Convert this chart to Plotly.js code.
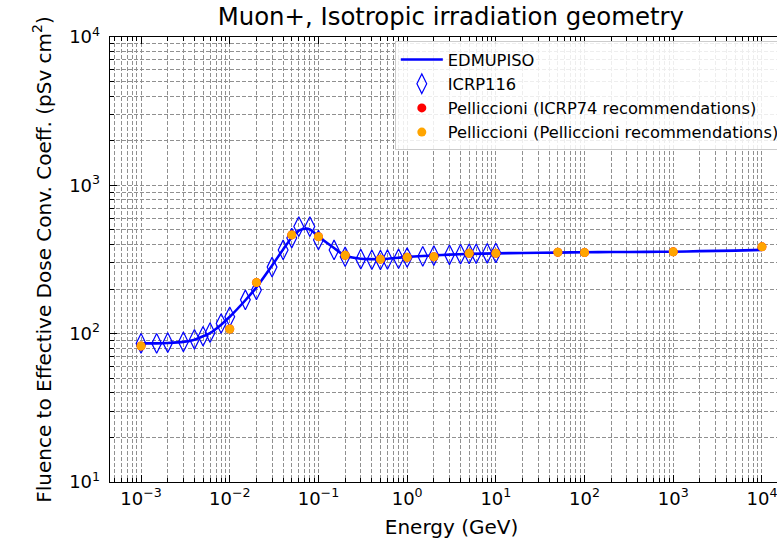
<!DOCTYPE html>
<html><head><meta charset="utf-8">
<script src="https://cdn.plot.ly/plotly-3.0.1.min.js"></script>
<style>html,body{margin:0;padding:0;overflow:hidden;background:#fff}#chart{width:800px;height:540px}</style>
</head><body><div id="chart"></div><script>
// EDMUPISO curve (GeV, pSv cm2)
const lineEnergy = [0.001, 0.0015, 0.002, 0.003, 0.004, 0.005, 0.006, 0.008, 0.01, 0.015, 0.02, 0.03, 0.04, 0.05, 0.06, 0.07, 0.08, 0.1, 0.15, 0.2, 0.3, 0.4, 0.5, 0.6, 0.8, 1, 1.5, 2, 3, 5, 10, 20, 50, 100, 200, 500, 1000, 2000, 5000, 10000];
const lineDose   = [86, 86, 86.5, 88, 91, 96, 101, 115, 130, 168, 205, 288, 370, 445, 495, 510, 505, 452, 378, 335, 320, 318, 318, 320, 325, 330, 334, 337, 341, 345, 348, 350, 352, 354, 355, 356, 357, 360, 363, 367];
// ICRP116 points
const icrpEnergy = [0.001, 0.0015, 0.002, 0.003, 0.004, 0.005, 0.006, 0.008, 0.01, 0.015, 0.02, 0.03, 0.04, 0.05, 0.06, 0.08, 0.1, 0.15, 0.2, 0.3, 0.4, 0.5, 0.6, 0.8, 1, 1.5, 2, 3, 4, 5, 6, 8, 10];
const icrpDose   = [86, 86, 87, 88, 91.6, 96, 101.6, 117, 130, 169, 197, 281, 367, 441, 527, 527, 428, 367, 330, 318, 315, 314, 316, 320, 326, 332, 336, 340, 343, 345, 346, 348, 350];
// Pelliccioni points
const pellEnergy = [0.001, 0.01, 0.02, 0.05, 0.1, 0.2, 0.5, 1, 2, 5, 10, 50, 100, 1000, 10000];
const pellICRP74 = [82.6, 107.6, 221, 463, 451, 338, 318, 327, 330, 348, 348, 354, 352, 356, 385];
const pellPell   = [82.6, 107.6, 221, 463, 451, 338, 318, 327, 330, 348, 348, 354, 352, 356, 385];
// Tick labels
const xTickVals = [1e-3, 1e-2, 1e-1, 1, 10, 100, 1000, 10000];
const xTickText = ['10<sup>−3</sup>', '10<sup>−2</sup>', '10<sup>−1</sup>', '10<sup>0</sup>', '10<sup>1</sup>', '10<sup>2</sup>', '10<sup>3</sup>', '10<sup>4</sup>'];
const yTickVals = [10, 100, 1000, 10000];
const yTickText = ['10<sup>1</sup>', '10<sup>2</sup>', '10<sup>3</sup>', '10<sup>4</sup>'];

function minorVals(lo, hi) {
  const v = [];
  for (let p = lo; p <= hi; p++) for (let d = 2; d <= 9; d++) v.push(d * Math.pow(10, p));
  return v;
}

const FONT = 'DejaVu Sans, sans-serif';
const gridCol = '#909090';
const gridDash = '4px,2px';

const traces = [
  {x: lineEnergy, y: lineDose, mode: 'lines', name: 'EDMUPISO', legendgroup: 'a',
   line: {color: '#0000ff', width: 2.6, shape: 'spline', smoothing: 0.6}},
  {x: icrpEnergy, y: icrpDose, mode: 'markers', name: 'ICRP116', legendgroup: 'b',
   marker: {symbol: 'diamond-tall-open', size: 14, color: '#0000ff', line: {width: 1.2, color: '#0000ff'}}},
  {x: pellEnergy, y: pellICRP74, mode: 'markers', name: 'Pelliccioni (ICRP74 recommendations)', legendgroup: 'c',
   marker: {symbol: 'circle', size: 9, color: '#ff0000'}},
  {x: pellEnergy, y: pellPell, mode: 'markers', name: 'Pelliccioni (Pelliccioni recommendations)', legendgroup: 'd',
   marker: {symbol: 'circle', size: 9, color: '#ffa500'}}
];

const axisCommon = {
  type: 'log', showline: true, linecolor: '#000', linewidth: 1.3, mirror: 'allticks',
  ticks: 'inside', ticklen: 7, tickwidth: 1, tickcolor: '#000',
  showgrid: true, gridcolor: gridCol, griddash: gridDash, gridwidth: 1,
  zeroline: false, tickmode: 'array',
  tickfont: {family: FONT, size: 18, color: '#000'},
  minor: {tickmode: 'array', ticks: 'inside', ticklen: 4, tickwidth: 1, tickcolor: '#000',
          showgrid: true, gridcolor: gridCol, griddash: gridDash, gridwidth: 1}
};

const layout = {
  width: 800, height: 540,
  margin: {l: 110, r: 7, t: 37, b: 58},
  paper_bgcolor: '#fff', plot_bgcolor: '#fff',
  font: {family: FONT, color: '#000'},
  title: {text: 'Muon+, Isotropic irradiation geometry', font: {family: FONT, size: 24.4, color: '#000'},
          x: 0.5635, xanchor: 'center', y: 0.985, yanchor: 'top'},
  xaxis: Object.assign({}, axisCommon, {
    range: [-3.35, 4.35], tickvals: xTickVals, ticktext: xTickText,
    minor: Object.assign({}, axisCommon.minor, {tickvals: minorVals(-4, 4)}),
    title: {text: 'Energy (GeV)', font: {family: FONT, size: 20, color: '#000'}, standoff: 12}
  }),
  yaxis: Object.assign({}, axisCommon, {
    range: [1, 4], tickvals: yTickVals, ticktext: yTickText, ticklabelstandoff: 5,
    minor: Object.assign({}, axisCommon.minor, {tickvals: minorVals(0, 4)}),
    title: {text: 'Fluence to Effective Dose Conv. Coeff. (pSv cm<sup>2</sup>)', font: {family: FONT, size: 20, color: '#000'}, standoff: 12}
  }),
  legend: {x: 0.417, y: 0.99, xanchor: 'left', yanchor: 'top',
           bgcolor: 'rgba(255,255,255,0.85)', bordercolor: '#cccccc', borderwidth: 1,
           font: {family: FONT, size: 16.3, color: '#000'}, traceorder: 'grouped', tracegroupgap: 0, itemwidth: 42},
  showlegend: true
};

Plotly.newPlot('chart', traces, layout, {displayModeBar: false, staticPlot: true});
</script></body></html>
